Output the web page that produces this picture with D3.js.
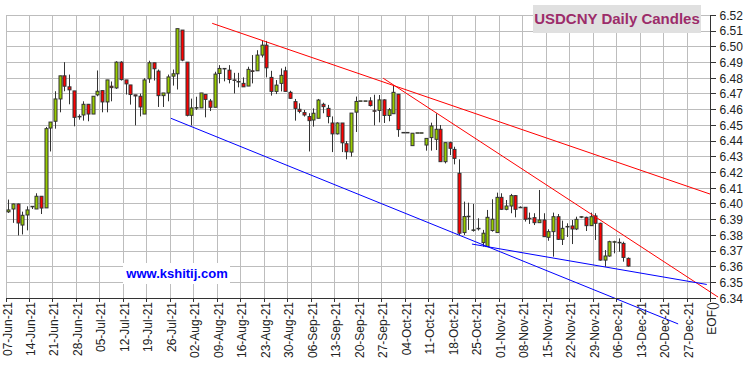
<!DOCTYPE html>
<html><head><meta charset="utf-8">
<script src="https://cdn.jsdelivr.net/npm/d3@7"></script>
<style>html,body{margin:0;padding:0;background:#fff;} svg{display:block;font-family:Arial,"Liberation Sans",sans-serif;}</style>
</head><body><svg id="c" width="750" height="366"></svg>
<script>
// Trading-day index 0 = 07-Jun-21
const openV = [6.3950,6.3968,6.4000,6.3866,6.3930,6.3983,6.3968,6.4049,6.3975,6.4483,
6.4526,6.4668,6.4815,6.4745,6.4719,6.4557,6.4566,6.4634,6.4572,6.4694,
6.4721,6.4649,6.4749,6.4738,6.4902,6.4789,6.4757,6.4694,6.4685,6.4572,
6.4796,6.4898,6.4845,6.4689,6.4706,6.4813,6.4828,6.5106,6.4902,6.4564,
6.4611,6.4611,6.4697,6.4655,6.4615,6.4830,6.4862,6.4851,6.4789,6.4779,
6.4767,6.4750,6.4847,6.4847,6.4947,6.5010,6.4805,6.4716,6.4767,6.4847,
6.4710,6.4651,6.4602,6.4581,6.4556,6.4534,6.4545,6.4634,6.4608,6.4515,
6.4446,6.4515,6.4383,6.4330,6.4584,6.4656,6.4656,6.4656,6.4593,6.4595,
6.4662,6.4563,6.4574,6.4698,6.4455,6.4455,6.4371,6.4453,6.4453,6.4375,
6.4422,6.4411,6.4475,6.4269,6.4390,6.4347,6.4195,6.3818,6.3922,6.3835,
6.3845,6.3754,6.3729,6.3831,6.3818,6.4042,6.3966,6.3987,6.4053,6.3979,
6.3979,6.3909,6.3913,6.3881,6.3898,6.3788,6.3824,6.3919,6.3775,6.3856,
6.3860,6.3841,6.3919,6.3915,6.3862,6.3924,6.3877,6.3643,6.3669,6.3760,
6.3756,6.3749,6.3654];
const highV = [6.4028,6.4002,6.4002,6.3951,6.3985,6.3985,6.4068,6.4049,6.4490,6.4521,
6.4717,6.4815,6.4902,6.4823,6.4719,6.4570,6.4653,6.4636,6.4685,6.4849,
6.4721,6.4789,6.4779,6.4908,6.4908,6.4789,6.4757,6.4694,6.4702,6.4800,
6.4911,6.4898,6.4855,6.4706,6.4823,6.4855,6.5115,6.5106,6.4902,6.4670,
6.4682,6.4706,6.4697,6.4668,6.4841,6.4883,6.4862,6.4883,6.4834,6.4834,
6.4805,6.4873,6.4947,6.4978,6.5037,6.5037,6.4847,6.4788,6.4862,6.4873,
6.4720,6.4668,6.4640,6.4598,6.4577,6.4608,6.4668,6.4644,6.4630,6.4557,
6.4519,6.4515,6.4400,6.4578,6.4683,6.4656,6.4656,6.4679,6.4695,6.4693,
6.4666,6.4610,6.4757,6.4698,6.4455,6.4455,6.4450,6.4453,6.4453,6.4417,
6.4517,6.4576,6.4502,6.4390,6.4396,6.4364,6.4284,6.4015,6.4008,6.4000,
6.3909,6.3835,6.3962,6.4030,6.4072,6.4068,6.4025,6.4064,6.4057,6.3985,
6.3979,6.3945,6.3941,6.4089,6.3941,6.3839,6.3945,6.3936,6.3894,6.3877,
6.3898,6.3919,6.3922,6.3919,6.3945,6.3941,6.3881,6.3707,6.3766,6.3766,
6.3781,6.3760,6.3660];
const lowV = [6.3943,6.3880,6.3800,6.3806,6.3832,6.3968,6.3968,6.3936,6.3975,6.4334,
6.4479,6.4583,6.4717,6.4634,6.4494,6.4536,6.4530,6.4526,6.4572,6.4685,
6.4583,6.4583,6.4653,6.4732,6.4785,6.4696,6.4632,6.4500,6.4557,6.4572,
6.4770,6.4785,6.4617,6.4617,6.4653,6.4753,6.4728,6.4908,6.4557,6.4500,
6.4598,6.4611,6.4551,6.4591,6.4615,6.4767,6.4780,6.4767,6.4703,6.4742,
6.4745,6.4750,6.4767,6.4847,6.4932,6.4805,6.4689,6.4699,6.4716,6.4716,
6.4668,6.4530,6.4577,6.4556,6.4334,6.4492,6.4545,6.4577,6.4513,6.4330,
6.4442,6.4330,6.4284,6.4301,6.4458,6.4656,6.4656,6.4620,6.4500,6.4519,
6.4515,6.4526,6.4574,6.4427,6.4455,6.4455,6.4371,6.4453,6.4453,6.4339,
6.4339,6.4343,6.4269,6.4258,6.4311,6.4252,6.3803,6.3803,6.3835,6.3824,
6.3831,6.3729,6.3729,6.3824,6.3818,6.3962,6.3960,6.3941,6.3915,6.3975,
6.3888,6.3873,6.3866,6.3881,6.3792,6.3766,6.3665,6.3771,6.3739,6.3790,
6.3745,6.3834,6.3910,6.3828,6.3860,6.3771,6.3639,6.3601,6.3665,6.3686,
6.3696,6.3633,6.3601];
const closeV = [6.3962,6.4000,6.3879,6.3928,6.3962,6.3985,6.4049,6.3974,6.4479,6.4521,
6.4668,6.4815,6.4749,6.4726,6.4551,6.4556,6.4634,6.4572,6.4685,6.4717,
6.4649,6.4789,6.4740,6.4902,6.4791,6.4764,6.4696,6.4687,6.4617,6.4789,
6.4898,6.4860,6.4689,6.4706,6.4808,6.4828,6.5115,6.4915,6.4564,6.4611,
6.4613,6.4706,6.4665,6.4615,6.4826,6.4862,6.4860,6.4792,6.4787,6.4777,
6.4745,6.4856,6.4843,6.4947,6.5010,6.4866,6.4716,6.4756,6.4818,6.4716,
6.4672,6.4608,6.4589,6.4566,6.4530,6.4577,6.4661,6.4619,6.4556,6.4446,
6.4515,6.4389,6.4332,6.4578,6.4652,6.4656,6.4656,6.4626,6.4590,6.4662,
6.4563,6.4599,6.4710,6.4473,6.4455,6.4455,6.4450,6.4453,6.4453,6.4417,
6.4496,6.4475,6.4269,6.4390,6.4354,6.4290,6.3814,6.3920,6.3922,6.3835,
6.3845,6.3814,6.3915,6.3903,6.4042,6.3966,6.3987,6.4053,6.3966,6.3979,
6.3903,6.3909,6.3881,6.3898,6.3792,6.3824,6.3919,6.3775,6.3845,6.3857,
6.3841,6.3902,6.3919,6.3862,6.3919,6.3877,6.3643,6.3669,6.3760,6.3760,
6.3756,6.3660,6.3605];

const weekLabels = ["07-Jun-21","14-Jun-21","21-Jun-21","28-Jun-21","05-Jul-21","12-Jul-21","19-Jul-21","26-Jul-21",
"02-Aug-21","09-Aug-21","16-Aug-21","23-Aug-21","30-Aug-21","06-Sep-21","13-Sep-21","20-Sep-21","27-Sep-21",
"04-Oct-21","11-Oct-21","18-Oct-21","25-Oct-21","01-Nov-21","08-Nov-21","15-Nov-21","22-Nov-21","29-Nov-21",
"06-Dec-21","13-Dec-21","20-Dec-21","27-Dec-21"];
const eofLabel = "EOF()";
const yTicks = [6.34,6.35,6.36,6.37,6.38,6.39,6.40,6.41,6.42,6.43,6.44,6.45,6.46,6.47,6.48,6.49,6.50,6.51,6.52];

// trend lines: [dayIndex, value]
const redTrendA = [[43.9,6.5149],[150,6.4062]];
const redTrendB = [[80.3,6.4800],[151.6,6.3408]];
const blueTrendA = [[35.1,6.4545],[143.1,6.3237]];
const blueTrendB = [[99.2,6.3745],[149.2,6.3488]];

const titleText = "USDCNY Daily Candles";
const watermark = "www.kshitij.com";

const svg = d3.select("#c");
const x = d3.scaleLinear().domain([0,150]).range([6,710.55]);
const y = d3.scaleLinear().domain([6.34,6.52]).range([298.3,15.3]);
const off = 0.45;

// grid
const grid = svg.append("g").attr("shape-rendering","crispEdges");
grid.selectAll(".h").data(yTicks).join("line")
  .attr("x1",x(0)).attr("x2",x(150)).attr("y1",d=>y(d)).attr("y2",d=>y(d))
  .attr("stroke","#bdbdbd").attr("stroke-width",1);
const weekIdx = weekLabels.map((d,i)=>i*5);
grid.selectAll(".v").data(weekIdx).join("line")
  .attr("x1",d=>x(d)).attr("x2",d=>x(d)).attr("y1",y(6.52)).attr("y2",y(6.34))
  .attr("stroke","#bdbdbd").attr("stroke-width",1);

// candles
const data = openV.map((o,i)=>({i,o,h:highV[i],l:lowV[i],c:closeV[i]}));
const cg = svg.append("g");
cg.selectAll(".w").data(data).join("line")
  .attr("x1",d=>Math.round(x(d.i+off))+0.5).attr("x2",d=>Math.round(x(d.i+off))+0.5)
  .attr("y1",d=>y(d.h)).attr("y2",d=>y(d.l))
  .attr("stroke","#333").attr("stroke-width",1);
cg.selectAll(".b").data(data).join("rect")
  .attr("x",d=>Math.round(x(d.i+off))-1)
  .attr("width",3)
  .attr("y",d=>y(Math.max(d.o,d.c)))
  .attr("height",d=>Math.max(0.5,Math.abs(y(d.o)-y(d.c))))
  .attr("fill",d=>d.c>=d.o?"#99cc00":"#ff0000")
  .attr("stroke","#333").attr("stroke-width",1);

// trend lines
const line = d3.line().x(d=>x(d[0])).y(d=>y(d[1]));
[[redTrendA,"#ff0000"],[redTrendB,"#ff0000"],[blueTrendA,"#0000ff"],[blueTrendB,"#0000ff"]].forEach(([pts,col])=>{
  svg.append("path").attr("d",line(pts)).attr("fill","none").attr("stroke",col).attr("stroke-width",1);
});

// axes
const ax = svg.append("g").attr("shape-rendering","crispEdges");
ax.append("line").attr("x1",x(0)).attr("x2",x(150)+0.5).attr("y1",y(6.34)).attr("y2",y(6.34)).attr("stroke","#333").attr("stroke-width",1.5);
ax.append("line").attr("x1",x(150)).attr("x2",x(150)).attr("y1",y(6.52)).attr("y2",y(6.34)).attr("stroke","#333").attr("stroke-width",1.5);
ax.selectAll(".yt").data(yTicks).join("line")
  .attr("x1",x(150)).attr("x2",x(150)+5).attr("y1",d=>y(d)).attr("y2",d=>y(d)).attr("stroke","#333");
svg.selectAll(".yl").data(yTicks).join("text")
  .attr("x",x(150)+9).attr("y",d=>y(d)).attr("dy","0.36em")
  .attr("font-size",12).attr("fill","#222").text(d=>d.toFixed(2));
const xt = weekIdx.concat([150]);
const xl = weekLabels.concat([eofLabel]);
ax.selectAll(".xt").data(xt).join("line")
  .attr("x1",d=>x(d)).attr("x2",d=>x(d)).attr("y1",y(6.34)).attr("y2",y(6.34)+4).attr("stroke","#333");
svg.selectAll(".xl").data(xt).join("text")
  .attr("transform",d=>`translate(${x(d)},302) rotate(-90)`)
  .attr("text-anchor","end").attr("dy","5.5")
  .attr("font-size",12).attr("fill","#222").text((d,i)=>xl[i]);

// title
svg.append("rect").attr("x",533).attr("y",5).attr("width",168).attr("height",28).attr("fill","#e0e0e0");
svg.append("text").attr("x",617).attr("y",24).attr("text-anchor","middle")
  .attr("font-size",15).attr("font-weight","bold").attr("fill","#9c2c6a").text(titleText);

// watermark
svg.append("rect").attr("x",123).attr("y",263).attr("width",107).attr("height",21).attr("fill","#fff");
svg.append("text").attr("x",177).attr("y",278).attr("text-anchor","middle")
  .attr("font-size",13).attr("font-weight","bold").attr("fill","#0000ff").text(watermark);
</script></body></html>
